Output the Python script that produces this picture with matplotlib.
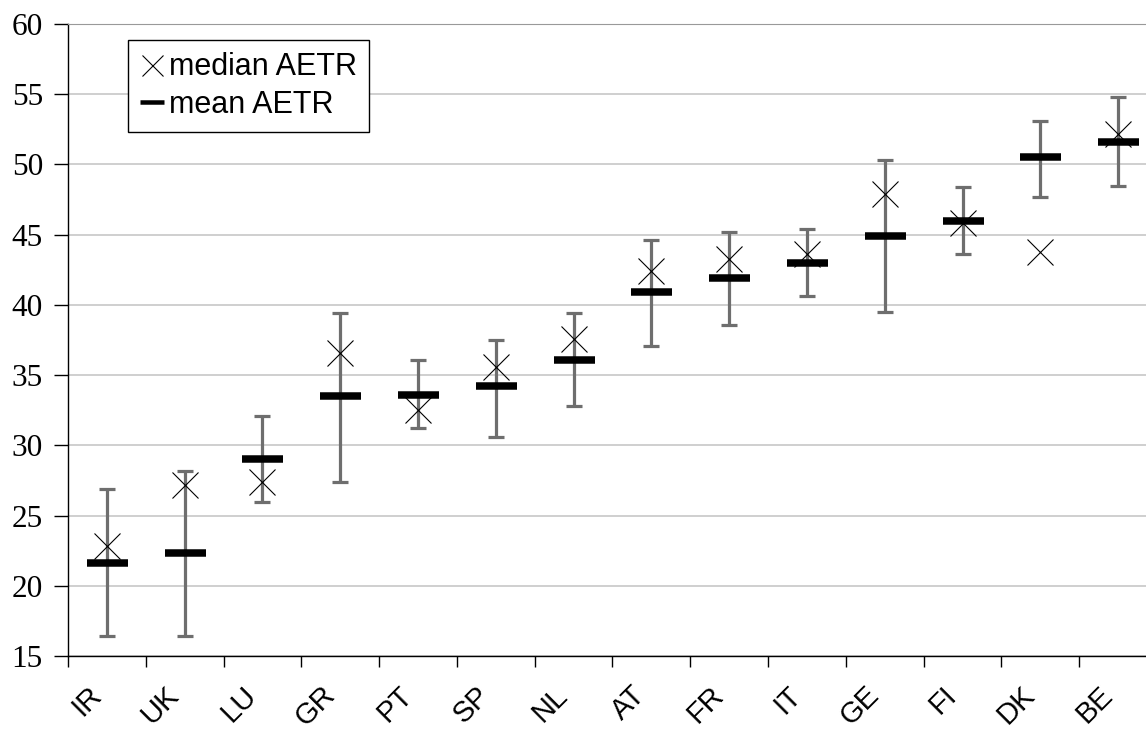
import matplotlib
matplotlib.use("Agg")
import matplotlib.pyplot as plt
from matplotlib.lines import Line2D
import numpy as np

countries = ["IR", "UK", "LU", "GR", "PT", "SP", "NL", "AT", "FR", "IT", "GE", "FI", "DK", "BE"]
mean_aetr = [21.6, 22.3, 29.0, 33.5, 33.6, 34.2, 36.1, 40.9, 41.9, 43.0, 44.9, 46.0, 50.5, 51.6]
median_aetr = [22.8, 27.2, 27.4, 36.6, 32.5, 35.6, 37.6, 42.4, 43.3, 43.6, 47.9, 45.8, 43.8, 52.2]
low = [16.4, 16.4, 26.0, 27.4, 31.2, 30.6, 32.8, 37.1, 38.6, 40.6, 39.5, 43.6, 47.7, 48.5]
high = [26.9, 28.2, 32.1, 39.4, 36.1, 37.5, 39.4, 44.6, 45.2, 45.4, 50.3, 48.4, 53.1, 54.8]

W, H = 1146, 735
fig = plt.figure(figsize=(W / 100, H / 100), dpi=100)
# axes runs slightly past the right edge, like the original crop
ax = fig.add_axes([68 / W, 1 - 656 / H, (1157 - 68) / W, (656 - 24) / H])

x = np.arange(len(countries))
mean = np.array(mean_aetr)
yerr = [mean - np.array(low), np.array(high) - mean]

px = 0.72  # points per pixel at dpi 100
ax.errorbar(x, mean, yerr=yerr, fmt="none", ecolor="#6e6e6e",
            elinewidth=3.2 * px, capsize=8 * px, capthick=3.2 * px, zorder=2)
ax.plot(x, mean, linestyle="none", marker="_", color="black",
        markersize=41 * px, markeredgewidth=7.5 * px, zorder=3)
ax.plot(x, median_aetr, linestyle="none", marker="x", color="black",
        markersize=26 * px, markeredgewidth=1.1 * px, zorder=4)

ax.set_xlim(-0.5, len(countries) - 0.5)
ax.set_ylim(15, 60)
ax.set_yticks(np.arange(15, 61, 5))
ax.yaxis.grid(True, color="#cccccc", linewidth=1.3)
ax.set_axisbelow(True)

# ticks on category boundaries, labels at the centres
ax.set_xticks(np.arange(-0.5, len(countries), 1))
ax.set_xticklabels([])
ax.set_xticks(x, minor=True)
ax.set_xticklabels(countries, minor=True, rotation=45, ha="right",
                   fontfamily="Liberation Sans", fontsize=21)
ax.tick_params(axis="x", which="minor", length=0, pad=18)
ax.tick_params(axis="x", which="major", length=8, width=1, direction="out")
ax.tick_params(axis="y", length=10, width=1, direction="out", pad=8)
for lab in ax.get_yticklabels():
    lab.set_fontfamily("Liberation Serif")
    lab.set_fontsize(22.5)

ax.spines["right"].set_visible(False)
ax.spines["top"].set_color("#999999")
ax.spines["left"].set_linewidth(1)
ax.spines["bottom"].set_linewidth(1)

handles = [
    Line2D([], [], linestyle="none", marker="x", color="black",
           markersize=21 * px, markeredgewidth=1.1 * px),
    Line2D([], [], linestyle="none", marker="_", color="black",
           markersize=24 * px, markeredgewidth=4.5 * px),
]
leg = ax.legend(handles, ["median AETR", "mean AETR"], loc="upper left",
                bbox_to_anchor=((128 - 68) / 1089, (656 - 40) / 632),
                borderaxespad=0, fancybox=False, framealpha=1,
                edgecolor="black", handlelength=0.8, handletextpad=0.15,
                borderpad=0.4, labelspacing=0.25,
                prop={"family": "Liberation Sans", "size": 22})
leg.get_frame().set_linewidth(1)

fig.savefig("out.png", dpi=100)
